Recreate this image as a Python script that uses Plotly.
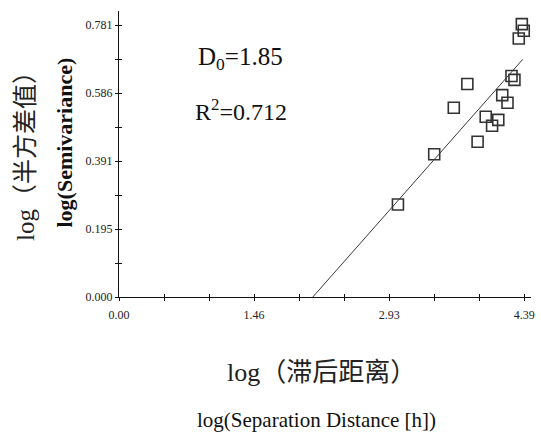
import plotly.graph_objects as go

# log(separation distance) and log(semivariance) pairs
log_h = [3.022, 3.415, 3.627, 3.774, 3.885, 3.973, 4.042, 4.109, 4.152,
         4.209, 4.252, 4.284, 4.331, 4.364, 4.385]
log_gamma = [0.266, 0.410, 0.544, 0.612, 0.446, 0.518, 0.492, 0.509, 0.580,
             0.558, 0.635, 0.624, 0.743, 0.784, 0.765]

# fitted regression line (end points in data units)
fit_x = [2.10, 4.374]
fit_y = [0.0, 0.683]

x_major_vals = [0.0, 1.4633, 2.9267, 4.39]
x_major_text = ["0.00", "1.46", "2.93", "4.39"]
x_minor_vals = [0.4878, 0.9756, 1.9511, 2.4389, 3.4144, 3.9022]
y_major_vals = [0.0, 0.1953, 0.3905, 0.5858, 0.781]
y_major_text = ["0.000", "0.195", "0.391", "0.586", "0.781"]
y_minor_vals = [0.0976, 0.2929, 0.4881, 0.6834]

W, H = 541, 437
ML, MR, MT, MB = 119, 6, 11, 140
PW, PH = W - ML - MR, H - MT - MB
X_RANGE = [0, PW / 93.2]
Y_RANGE = [0, PH / 348.0]


def px(x):
    return (x - ML) / PW


def py(y):
    return (H - MB - y) / PH


serif = "Liberation Serif, Times New Roman, serif"
cjk = "Liberation Serif, Noto Sans CJK SC, serif"

fig = go.Figure()
fig.add_trace(go.Scatter(
    x=fit_x, y=fit_y, mode="lines",
    line=dict(color="#3a3a3a", width=1), hoverinfo="skip", showlegend=False))
fig.add_trace(go.Scatter(
    x=log_h, y=log_gamma, mode="markers",
    marker=dict(symbol="square-open", size=11, color="#333333",
                line=dict(width=1.6, color="#333333")),
    showlegend=False))
# invisible trace on the overlay axes that carry the inward tick halves
fig.add_trace(go.Scatter(x=[0], y=[0], xaxis="x2", yaxis="y2", mode="markers",
                         marker=dict(opacity=0), hoverinfo="skip", showlegend=False))

common = dict(showgrid=False, zeroline=False, ticklen=3, tickwidth=1,
              tickcolor="#111", fixedrange=True, tickmode="array")


def minor(vals, direction):
    return dict(tickmode="array", tickvals=vals, ticks=direction, ticklen=3,
                tickwidth=1, tickcolor="#111", showgrid=False)


tick_font = dict(family=serif, size=12, color="#222")

fig.update_layout(
    width=W, height=H,
    margin=dict(l=ML, r=MR, t=MT, b=MB),
    paper_bgcolor="white", plot_bgcolor="white",
    xaxis=dict(range=X_RANGE, tickvals=x_major_vals, ticktext=x_major_text,
               ticks="outside", minor=minor(x_minor_vals, "outside"),
               showline=True, linecolor="#111", linewidth=1,
               tickfont=tick_font, ticklabelstandoff=4, **common),
    yaxis=dict(range=Y_RANGE, tickvals=y_major_vals, ticktext=y_major_text,
               ticks="outside", minor=minor(y_minor_vals, "outside"),
               showline=True, linecolor="#111", linewidth=1,
               tickfont=tick_font, **common),
    xaxis2=dict(range=X_RANGE, overlaying="x", side="bottom",
                tickvals=x_major_vals, ticks="inside",
                minor=minor(x_minor_vals, "inside"),
                showticklabels=False, showline=False, **common),
    yaxis2=dict(range=Y_RANGE, overlaying="y", side="left",
                tickvals=y_major_vals, ticks="inside",
                minor=minor(y_minor_vals, "inside"),
                showticklabels=False, showline=False, **common),
)

annotations = [
    dict(text="D<sub>0</sub>=1.85", x=px(242), y=py(58),
         font=dict(family=serif, size=25, color="#111")),
    dict(text="R<sup>2</sup>=0.712", x=px(242), y=py(110),
         font=dict(family=serif, size=24, color="#111")),
    dict(text="log（半方差值）", x=px(24), y=py(150), textangle=-90,
         font=dict(family=cjk, size=25, color="#222")),
    dict(text="<b>log(Semivariance)</b>", x=px(63), y=py(143), textangle=-90,
         font=dict(family=serif, size=22, color="#111")),
    dict(text="log（滞后距离）", x=px(323), y=py(372),
         font=dict(family=cjk, size=26, color="#222")),
    dict(text="log(Separation Distance [h])", x=px(318), y=py(420),
         font=dict(family=serif, size=21, color="#111")),
]
for a in annotations:
    fig.add_annotation(xref="paper", yref="paper", showarrow=False,
                       xanchor="center", yanchor="middle", **a)

fig.write_html("out.html")
